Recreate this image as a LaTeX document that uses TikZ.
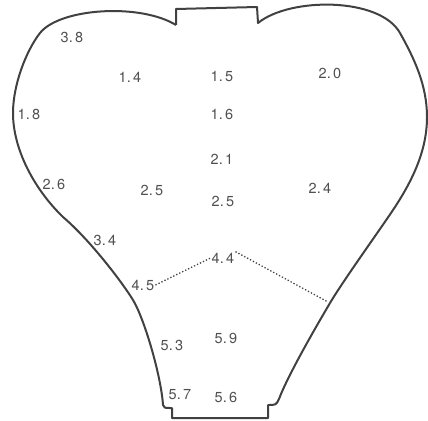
\documentclass[tikz,border=0pt]{standalone}
\usepackage{fontspec}
\setsansfont{TeX Gyre Heros}
\definecolor{ink}{RGB}{65,65,65}
\definecolor{numgray}{RGB}{80,80,80}
\tikzset{
  rim/.style={line width=2pt,draw=ink,line join=round},
  val/.style={font=\sffamily\fontsize{14.5}{15}\selectfont,text=numgray,inner sep=1pt},
  iso/.style={dotted,line width=1.3pt,draw=ink}
}
\begin{document}
\begin{tikzpicture}[x=1pt,y=-1pt]
    \useasboundingbox (0,0) rectangle (428,420);

    % outline, clockwise from the left side of the neck
    \draw[rim] (176,25) -- (176,9) -- (257,7) -- (258,23)
      .. controls (290,-3) and (380,-3) .. (400,33)
      .. controls (414,58) and (427,85) .. (427,117)
      .. controls (427,150) and (413,180) .. (393,210)
      .. controls (379,231) and (343,281) .. (330,303)
      .. controls (317,325) and (288,375) .. (279,399)
      .. controls (276,405) .. (268,405) -- (268,418)
      -- (172,418) -- (172,408)
      .. controls (164,408) .. (163,405)
      .. controls (161,375) and (144,318) .. (133,300)
      .. controls (122,282) and (90,240) .. (63,217)
      .. controls (35,190) and (13,150) .. (13,113)
      .. controls (13,85) and (26,51) .. (40,33)
      .. controls (60,8) and (140,3) .. (176,25);

    % values
    \node[val] (v38)  at (72,37)   {3.\,8};
    \node[val] (v14)  at (130,77)  {1.\,4};
    \node[val] (v15)  at (222,76)  {1.\,5};
    \node[val] (v20)  at (330,73)  {2.\,0};
    \node[val] (v18)  at (29,114)  {1.\,8};
    \node[val] (v16)  at (222,114) {1.\,6};
    \node[val] (v21)  at (222,159) {2.\,1};
    \node[val] (v26)  at (54,184)  {2.\,6};
    \node[val] (v25a) at (152,190) {2.\,5};
    \node[val] (v25b) at (223,201) {2.\,5};
    \node[val] (v24)  at (320,188) {2.\,4};
    \node[val] (v34)  at (105,240) {3.\,4};
    \node[val] (v44)  at (223,258) {4.\,4};
    \node[val] (v45)  at (143,285) {4.\,5};
    \node[val] (v53)  at (172,345) {5.\,3};
    \node[val] (v59)  at (226,338) {5.\,9};
    \node[val] (v57)  at (180,395) {5.\,7};
    \node[val] (v56)  at (226,397) {5.\,6};

    % dotted boundary
    \coordinate (edge) at (328,302);
    \draw[iso] (v45.east) -- (v44.west);
    \draw[iso] (v44.north east) -- (edge);
\end{tikzpicture}
\end{document}
